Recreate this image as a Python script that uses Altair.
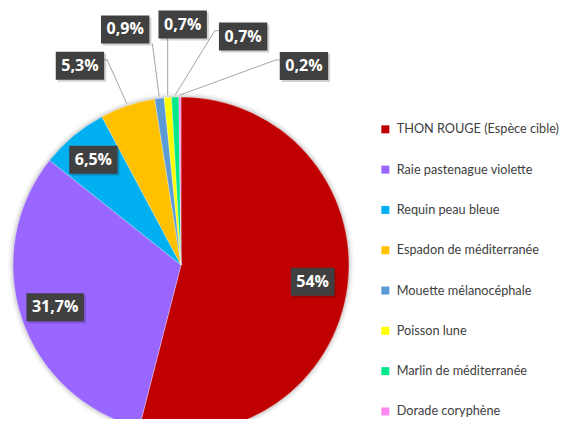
import math
import altair as alt
import pandas as pd

# ---------------- data ----------------
categories = [
    "THON ROUGE (Espèce cible)",
    "Raie pastenague violette",
    "Requin peau bleue",
    "Espadon de méditerranée",
    "Mouette mélanocéphale",
    "Poisson lune",
    "Marlin de méditerranée",
    "Dorade coryphène",
]
values = [54, 31.7, 6.5, 5.3, 0.9, 0.7, 0.7, 0.2]
value_labels = ["54%", "31,7%", "6,5%", "5,3%", "0,9%", "0,7%", "0,7%", "0,2%"]
colors = ["#C00000", "#9966FF", "#00B0F0", "#FFC000", "#5B9BD5", "#FFFF00", "#00E887", "#FF88F0"]

# ---------------- layout (page pixel coordinates) ----------------
M = 8                      # page margin
W, H = 553, 411            # chart size (fills the window exactly)
CX, CY, R = 181, 265, 168  # pie centre and radius on the page
inner_r = {0: 0.79, 1: 0.79, 2: 0.815}             # labels drawn inside the slice
outer = {                                          # callouts: offset from slice edge, attach side
    3: (-47, -38, "right"),
    4: (-34, -67, "bottom"),
    5: (15, -71, "bottom"),
    6: (68, -58.5, "left"),
    7: (124, -29, "left"),
}
BOX_H = 28
FONT_W = {",": 0.30, "%": 0.83}


def text_w(s, size=16):
    return sum(FONT_W.get(c, 0.572) for c in s) * size


total = sum(values)
cum = 0.0
mids = []
for v in values:
    mids.append((cum + v / 2) / total * 2 * math.pi)
    cum += v

boxes, rules = [], []
for i, lab in enumerate(value_labels):
    a = mids[i]
    bw = text_w(lab) + 12
    if i in inner_r:
        r = inner_r[i] * R
        bx, by = CX + r * math.sin(a), CY - r * math.cos(a)
    else:
        ex, ey = CX + (R + 2) * math.sin(a), CY - (R + 2) * math.cos(a)
        dx, dy, side = outer[i]
        bx, by = ex + dx, ey + dy
        if side == "right":
            ax, ay = bx + bw / 2, by - 6
            rules.append(dict(x=ex, y=ey, x2=ax + 3, y2=ay))
            rules.append(dict(x=ax + 3, y=ay, x2=ax, y2=ay))
        elif side == "left":
            ax, ay = bx - bw / 2, by - 6
            rules.append(dict(x=ex, y=ey, x2=ax - 4, y2=ay))
            rules.append(dict(x=ax - 4, y=ay, x2=ax, y2=ay))
        else:
            ax = min(max(ex, bx - bw / 2 + 3), bx + bw / 2 + 3)
            ay = by + BOX_H / 2
            rules.append(dict(x=ex, y=ey, x2=ax, y2=ay))
    boxes.append(dict(label=lab, x=bx, y=by, x1=bx - bw / 2, x2=bx + bw / 2,
                      y1=by - BOX_H / 2, y2=by + BOX_H / 2,
                      sx1=bx - bw / 2 + 2, sx2=bx + bw / 2 + 2,
                      sy1=by - BOX_H / 2 + 2, sy2=by + BOX_H / 2 + 2))

df = pd.DataFrame({"cat": categories, "value": values, "idx": list(range(len(values)))})
bdf = pd.DataFrame(boxes)
rdf = pd.DataFrame(rules)

xs = alt.Scale(domain=[M, M + W], range=[0, W], nice=False, zero=False)
ys = alt.Scale(domain=[M, M + H], range=[0, H], nice=False, zero=False)

# soft shadow round the pie
shadow_df = pd.DataFrame({"k": [1]})
shadows = [
    alt.Chart(shadow_df).mark_arc(radius=R + rr, theta=0, theta2=2 * math.pi,
                                  color="#000000", opacity=op)
    .encode(x=alt.value(CX - M), y=alt.value(CY - M))
    for rr, op in [(5, 0.03), (3, 0.05), (1.5, 0.07)]
]

pie = alt.Chart(df).mark_arc(radius=R, stroke="white", strokeWidth=0.3).encode(
    theta=alt.Theta("value:Q", stack=True),
    order=alt.Order("idx:Q"),
    color=alt.Color(
        "cat:N",
        scale=alt.Scale(domain=categories, range=colors),
        sort=categories,
        legend=alt.Legend(
            title=None, orient="none", legendX=379 - M, legendY=123 - M,
            symbolType="square", symbolSize=64, symbolStrokeWidth=0,
            labelFont="Lato", labelFontSize=12.7, labelColor="#404040",
            labelLimit=300, rowPadding=26.3, labelOffset=5, padding=0,
        ),
    ),
    x=alt.value(CX - M),
    y=alt.value(CY - M),
)

lines = alt.Chart(rdf).mark_rule(color="#A6A6A6", strokeWidth=1).encode(
    x=alt.X("x:Q", scale=xs, axis=None), y=alt.Y("y:Q", scale=ys, axis=None),
    x2="x2:Q", y2="y2:Q",
)

box_shadow = alt.Chart(bdf).mark_rect(color="#000000", opacity=0.18).encode(
    x=alt.X("sx1:Q", scale=xs, axis=None), x2="sx2:Q",
    y=alt.Y("sy1:Q", scale=ys, axis=None), y2="sy2:Q",
)
box = alt.Chart(bdf).mark_rect(color="#404040").encode(
    x=alt.X("x1:Q", scale=xs, axis=None), x2="x2:Q",
    y=alt.Y("y1:Q", scale=ys, axis=None), y2="y2:Q",
)
txt = alt.Chart(bdf).mark_text(font="Open Sans", fontWeight="bold", fontSize=16,
                               color="white", align="center", baseline="middle").encode(
    x=alt.X("x:Q", scale=xs, axis=None), y=alt.Y("y:Q", scale=ys, axis=None),
    text="label:N",
)

chart = alt.layer(*shadows, pie, lines, box_shadow, box, txt).properties(
    width=W, height=H, autosize="none", padding=0, background="white",
).configure_view(stroke=None, strokeWidth=0, strokeOpacity=0)

chart.save("out.html", embed_options={"renderer": "svg", "actions": False})
